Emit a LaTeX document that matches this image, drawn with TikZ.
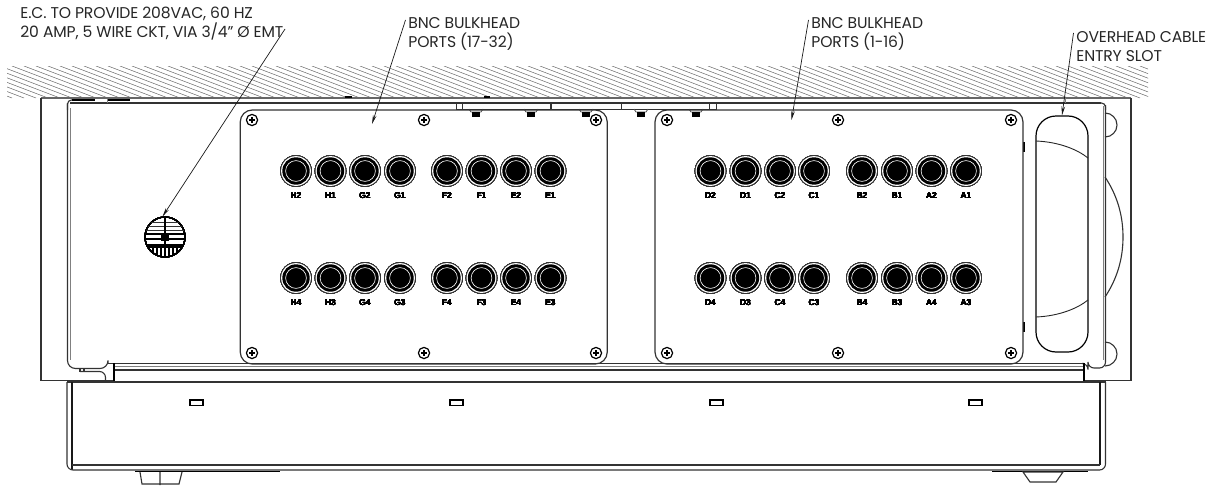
\documentclass[tikz,border=0pt]{standalone}
\usepackage{fontspec}
\setmainfont{Poppins}
\newfontfamily\portfont{Liberation Sans}
\usetikzlibrary{arrows.meta}
\tikzset{
    note/.style={anchor=west,align=left,inner sep=0pt,font=\fontsize{7.8}{9.2}\selectfont\addfontfeatures{LetterSpace=-1},text=black!85},
    portlabel/.style={inner sep=0pt,font=\portfont\bfseries\fontsize{4.2}{4.4}\selectfont},
    leader/.style={black!90,line width=0.35pt,-{Stealth[length=4.5pt,width=1.8pt]}},
    edge/.style={black!80,line width=0.55pt},
    faint/.style={black!50,line width=0.4pt},
    plate/.style={draw=black!80,line width=0.6pt,rounded corners=6pt,inner sep=0pt},
}
\newcommand{\bncport}[3]{
    \fill[black!80] (#1,#2) circle (15.8);
    \fill[white] (#1,#2) circle (14.9);
    \fill[black] (#1,#2) circle (13.7);
    \draw[white,line width=0.3pt] (#1,#2) circle (10.4);
    \node[portlabel] (port#3) at (#1,#2+24.3) {#3};
}
\newcommand{\platescrew}[2]{
    \draw[black,line width=0.6pt] (#1,#2) circle (5.6);
    \draw[black,line width=1.1pt] (#1-3,#2) -- (#1+3,#2) (#1,#2-3) -- (#1,#2+3);
}
\begin{document}
\begin{tikzpicture}[x=0.5pt,y=-0.5pt]
    \useasboundingbox (0,0) rectangle (1221,487);
    \begin{scope}
        \clip (7,66) rectangle (1148,98);
        \foreach \hx in {-84,-72,...,1148}
            \draw[black!60,line width=0.25pt] (\hx,66) -- (\hx+84,98);
    \end{scope}
    \draw[black!60,line width=0.8pt] (41,98) -- (1131,98);
    \draw[edge] (41,98) -- (41,380.5) -- (114,380.5);
    \draw[edge] (1084,380.5) -- (1131,380.5) -- (1131,98);
    \draw[edge,rounded corners=4pt] (108,363.5) -- (108,368.5) -- (67.5,368.5) -- (67.5,103);
    \draw[edge,rounded corners=2pt] (67.5,110) -- (67.5,100) -- (72,100);
    \draw[edge] (108,363.5) -- (1084,363.5);
    \draw[edge] (70,103) -- (1101,103);
    \draw[edge,rounded corners=2pt] (1098,103) -- (1105.5,103) -- (1105.5,110);
    \draw[edge,rounded corners=3pt] (1105.5,105) -- (1105.5,368) -- (1088,368) -- (1088,363.5) -- (1084,363.5);
    \draw[faint] (70,108) -- (70,360) (1103,106) -- (1103,360);
    \draw[faint] (114,366.5) -- (1084,366.5);
    \draw[edge] (114,370) -- (1084,370);
    \draw[black,line width=0.8pt] (114,363) -- (114,382) (1084,363) -- (1084,382);
    \draw[edge,rounded corners=3pt] (80,371.5) -- (105.5,371.5) -- (105.5,381);
    \draw[edge] (80,368.5) -- (80,371.5) (84,368.5) -- (84,371.5);
    \draw[black,line width=1pt] (72,99.5) -- (95,99.5) (107,99.5) -- (130,99.5) (345,97) -- (352,97) (484,97) -- (490,97) (86,381.5) -- (90,381.5) (98,381.5) -- (106,381.5);
    \draw[faint] (107,99) -- (107,103) (1065,98) -- (1065,103);
    \draw[black,line width=1pt] (1023.5,142) -- (1023.5,152) (1023.5,322) -- (1023.5,332);
    \draw[edge] (67,382) -- (1105.5,382);
    \draw[black!90,line width=0.8pt] (72,382) -- (72,470) (1100,382) -- (1100,465);
    \draw[edge,rounded corners=3pt] (67,382) -- (67,470) -- (1105.5,470) -- (1105.5,382);
    \draw[edge] (72,465) -- (1100,465);
    \foreach \sx in {190,450,710,969}
        \draw[black,line width=0.55pt,fill=white] (\sx,400) rectangle (\sx+13,405.5);
    \draw[black,line width=0.8pt] (135,471.5) -- (280,471.5) (992,471.5) -- (1088,471.5);
    \draw[edge] (140,472) -- (142,484) -- (179,484) -- (182,472) (160,472) -- (160,485);
    \draw[edge] (1023,472) -- (1030,482) -- (1056,482) -- (1063,472) -- cycle;
    \draw[edge] (1105,113) arc (-90:90:12);
    \draw[edge] (1105,342) arc (-90:90:12);
    \draw[edge] (1105,177) .. controls (1117,195) and (1123,215) .. (1123,237) .. controls (1123,259) and (1117,279) .. (1105,297);
    \draw[edge] (456.7,103) rectangle (716.7,109.5);
    \draw[edge] (462.5,103) -- (462.5,109.5) (551,103) -- (551,109.5) (621.6,103) -- (621.6,109.5) (709.6,103) -- (709.6,109.5);
    \foreach \tx in {476,531,586,641,696} {
        \draw[black!70,line width=0.4pt] (\tx-7,109) -- (\tx-5,112) -- (\tx+5,112) -- (\tx+7,109);
        \fill[black] (\tx-4,112) rectangle (\tx+4,117);
    }
    \node[plate,minimum width=183.5pt,minimum height=127pt] (plateleft) at (423.75,237) {};
    \node[plate,minimum width=184pt,minimum height=127pt] (plateright) at (839,237) {};
    \foreach \px in {252,424,596,667,838,1011}
        \foreach \py in {120,353}
            \platescrew{\px}{\py}
    \foreach \px/\pname/\qname in {296/H2/H4,330.5/H1/H3,365/G2/G4,400/G1/G3,447/F2/F4,481.5/F1/F3,516/E2/E4,550.5/E1/E3,710.5/D2/D4,745.5/D1/D3,780/C2/C4,814/C1/C3,862/B2/B4,897/B1/B3,931.5/A2/A4,966/A1/A3} {
        \bncport{\px}{171}{\pname}
        \bncport{\px}{278}{\qname}
    }
    \node[draw=black,line width=0.6pt,minimum size=20pt,circle,inner sep=0pt] (conduit) at (165,237) {};
    \begin{scope}
        \clip (165,237) circle (20);
        \draw[black!80,line width=0.4pt] (145,222) -- (185,222) (145,226) -- (185,226) (145,230) -- (185,230);
        \draw[black,line width=0.9pt] (145,234) -- (185,234) (145,239) -- (185,239) (145,245) -- (185,245);
        \draw[black,line width=1.1pt] (165,217) -- (165,257);
        \fill[black] (145,246) rectangle (185,248);
        \fill[black] (161,233) rectangle (169,241);
        \foreach \gx in {149,153,...,181}
            \draw[black,line width=1pt] (\gx,246) -- (\gx,257);
    \end{scope}
    \node[draw=black,line width=0.6pt,rounded corners=10pt,minimum width=26pt,minimum height=118pt,inner sep=0pt] (slot) at (1062,234) {};
    \draw[black!85,line width=0.45pt] (1036,141) .. controls (1060,142) and (1078,150) .. (1088,158);
    \draw[black!85,line width=0.45pt] (1036,317) .. controls (1060,316) and (1078,308) .. (1088,300);
    \node[note] (emtnote) at (20,23.5) {E.C. TO PROVIDE 208VAC, 60 HZ\\20 AMP, 5 WIRE CKT, VIA 3/4'' Ø EMT};
    \node[note] (bncleft) at (408,34) {BNC BULKHEAD\\PORTS (17-32)};
    \node[note] (bncright) at (811,34) {BNC BULKHEAD\\PORTS (1-16)};
    \node[note] (slotnote) at (1076,46.5) {OVERHEAD CABLE\\ENTRY SLOT};
    \coordinate (emtend) at (285,29);
    \coordinate (bncleftend) at (405.5,20);
    \coordinate (bncrightend) at (808.5,20);
    \coordinate (slotend) at (1073.5,33);
    \coordinate (bnclefttip) at (372,124);
    \coordinate (bncrighttip) at (791.5,120);
    \draw[leader] (emtend) -- (conduit.97);
    \draw[leader] (bncleftend) -- (bnclefttip);
    \draw[leader] (bncrightend) -- (bncrighttip);
    \draw[leader] (slotend) -- (slot.north);
\end{tikzpicture}
\end{document}
